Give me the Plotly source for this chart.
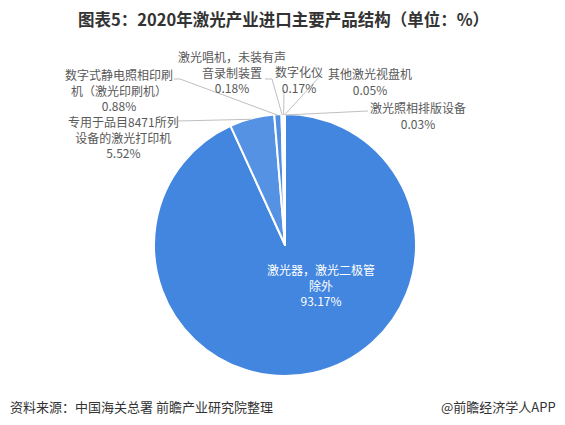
import plotly.graph_objects as go
import math

# ---- data ----
labels = [
    "激光器，激光二极管<br>除外",
    "专用于品目8471所列<br>设备的激光打印机",
    "数字式静电照相印刷<br>机（激光印刷机）",
    "激光唱机，未装有声<br>音录制装置",
    "数字化仪",
    "其他激光视盘机",
    "激光照相排版设备",
]
values = [93.17, 5.52, 0.88, 0.18, 0.17, 0.05, 0.03]
value_text = ["93.17%", "5.52%", "0.88%", "0.18%", "0.17%", "0.05%", "0.03%"]

title_text = "图表5：2020年激光产业进口主要产品结构（单位：%）"
source_text = "资料来源：中国海关总署 前瞻产业研究院整理"
brand_text = "@前瞻经济学人APP"

# ---- layout helpers ----
OFF = 8  # default page body margin
W, H = 565 - OFF, 425 - OFF
CX, CY, R = 285, 245, 131
FONT = "Noto Sans CJK SC, Microsoft YaHei, sans-serif"
colors = ["#4286E0", "#5592E4", "#4F8EE3", "#4A8AE2", "#4A8AE2", "#4A8AE2", "#4A8AE2"]


def px(x):
    return (x - OFF) / W


def py(y):
    return 1 - (y - OFF) / H


fig = go.Figure(go.Pie(
    labels=labels,
    values=values,
    sort=False,
    direction="clockwise",
    rotation=0,
    textinfo="none",
    hoverinfo="label+percent",
    marker=dict(colors=colors, line=dict(color="white", width=2)),
    domain=dict(x=[px(CX - R), px(CX + R)], y=[py(CY + R), py(CY - R)]),
    showlegend=False,
))

# edge points of slices computed from the data
total = sum(values)
cum = 0
edge = []
for v in values:
    mid = (cum + v / 2) / total * 2 * math.pi
    cum += v
    edge.append((CX + R * math.sin(mid), CY - R * math.cos(mid)))

# label placement (pixel centers) and leader line anchors
label_pos = {
    0: (321, 285),
    1: (123, 137),
    2: (119, 90),
    3: (232, 72),
    4: (299, 79),
    5: (370, 81),
    6: (418, 116),
}
line_end = {
    1: [(178, 121)],
    2: [(174, 79), (180, 79)],
    3: [(265, 79), (272, 79)],
    4: [(284, 90)],
    5: [(322, 74)],
    6: [(368, 111)],
}

annotations = []
for i, (lx, ly) in label_pos.items():
    txt = labels[i] + "<br>" + value_text[i]
    annotations.append(dict(
        x=px(lx), y=py(ly), xref="paper", yref="paper",
        text=txt, showarrow=False, align="center",
        xanchor="center", yanchor="middle",
        font=dict(family=FONT, size=12, color="white" if i == 0 else "#595959"),
    ))

shapes = []
for i, pts in line_end.items():
    ex, ey = edge[i]
    ey = ey + 1
    path_pts = pts + [(ex, ey)]
    d = "M " + " L ".join(f"{px(x):.5f},{py(y):.5f}" for x, y in path_pts)
    shapes.append(dict(type="path", xref="paper", yref="paper", path=d,
                       line=dict(color="#BFBFBF", width=1)))

annotations.append(dict(
    x=px(283), y=py(19), xref="paper", yref="paper", text="<b>" + title_text + "</b>",
    showarrow=False, xanchor="center", yanchor="middle",
    font=dict(family=FONT, size=16.5, color="#333333"),
))
annotations.append(dict(
    x=px(8), y=py(406), xref="paper", yref="paper", text=source_text,
    showarrow=False, xanchor="left", yanchor="middle",
    font=dict(family=FONT, size=13, color="#333333"),
))
annotations.append(dict(
    x=px(558), y=py(406), xref="paper", yref="paper", text=brand_text,
    showarrow=False, xanchor="right", yanchor="middle",
    font=dict(family=FONT, size=13, color="#333333"),
))

fig.update_layout(
    width=W, height=H,
    margin=dict(l=0, r=0, t=0, b=0),
    paper_bgcolor="white", plot_bgcolor="white",
    annotations=annotations,
    shapes=shapes,
    font=dict(family=FONT),
)

fig.write_html("out.html")
